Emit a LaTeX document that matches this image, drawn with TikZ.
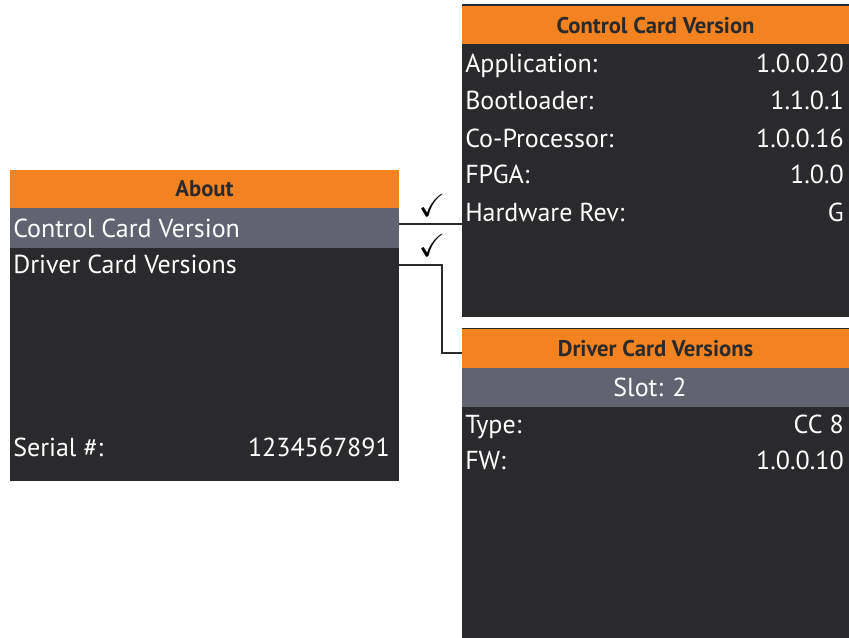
\documentclass[tikz,border=0pt]{standalone}
\usepackage{amssymb}
\usepackage{fontspec}
\setmainfont{PT Sans}
\definecolor{hdrorange}{RGB}{243,131,33}
\definecolor{selgray}{RGB}{98,99,112}
\definecolor{scrdark}{RGB}{42,42,44}
\tikzset{
  hdr/.style={font=\fontsize{17}{19}\selectfont\bfseries, text=scrdark, inner sep=0pt, anchor=base},
  entry/.style={font=\fontsize{19.5}{21}\selectfont, text=white, inner sep=0pt, anchor=base west},
  val/.style={font=\fontsize{19.5}{21}\selectfont, text=white, inner sep=0pt, anchor=base east},
  tick/.style={font=\fontsize{24}{26}\selectfont, inner sep=0pt},
  wire/.style={draw=scrdark, line width=1.4pt},
}
\begin{document}
\begin{tikzpicture}[x=0.75pt,y=-0.75pt]
\useasboundingbox (0,0) rectangle (849,638);
% About screen
\fill[scrdark] (10,170) rectangle (399,481);
\fill[hdrorange] (10,170) rectangle (399,208);
\fill[selgray] (10,208) rectangle (399,248);
\node[hdr] (about) at (204.5,196.5) {About};
\node[entry] (ccv) at (13,237) {Control Card Version};
\node[entry] (dcv) at (13,273) {Driver Card Versions};
\node[entry] (serial) at (13,456) {Serial \#:};
\node[val] (serialno) at (390,456) {1234567891};

% Control Card Version screen
\fill[scrdark] (462,4.5) rectangle (849,317);
\fill[hdrorange] (462,6) rectangle (849,44);
\node[hdr] (cchead) at (655.5,33.5) {Control Card Version};
\node[entry] (app) at (465,73) {Application:};
\node[val] (appv) at (844,73) {1.0.0.20};
\node[entry] (boot) at (465,110) {Bootloader:};
\node[val] (bootv) at (844,110) {1.1.0.1};
\node[entry] (copro) at (465,147) {Co-Processor:};
\node[val] (coprov) at (844,147) {1.0.0.16};
\node[entry] (fpga) at (465,184) {FPGA:};
\node[val] (fpgav) at (844,184) {1.0.0};
\node[entry] (hwrev) at (465,221) {Hardware Rev:};
\node[val] (hwrevv) at (844,221) {G};

% Driver Card Versions screen
\fill[scrdark] (462,327.5) rectangle (849,638);
\fill[hdrorange] (462,329) rectangle (849,368);
\fill[selgray] (462,368) rectangle (849,407);
\node[hdr] (dchead) at (655.5,356) {Driver Card Versions};
\node[font=\fontsize{19.5}{21}\selectfont, text=white, inner sep=0pt, anchor=base] (slot) at (650,396.5) {Slot: 2};
\node[entry] (type) at (465,433) {Type:};
\node[val] (typev) at (844,433) {CC 8};
\node[entry] (fw) at (465,469) {FW:};
\node[val] (fwv) at (844,469) {1.0.0.10};

% links between the screens
\coordinate (ccout) at (399,224);
\coordinate (ccin) at (462,224);
\coordinate (dcout) at (399,265);
\coordinate (dcbend) at (442,265);
\coordinate (dcin) at (462,353);
\draw[wire] (ccout) -- (ccin);
\draw[wire] (dcout) -- (dcbend) |- (dcin);
\node[tick] (ccok) at (432,205) {$\checkmark$};
\node[tick] (dcok) at (432,245) {$\checkmark$};
\end{tikzpicture}
\end{document}
